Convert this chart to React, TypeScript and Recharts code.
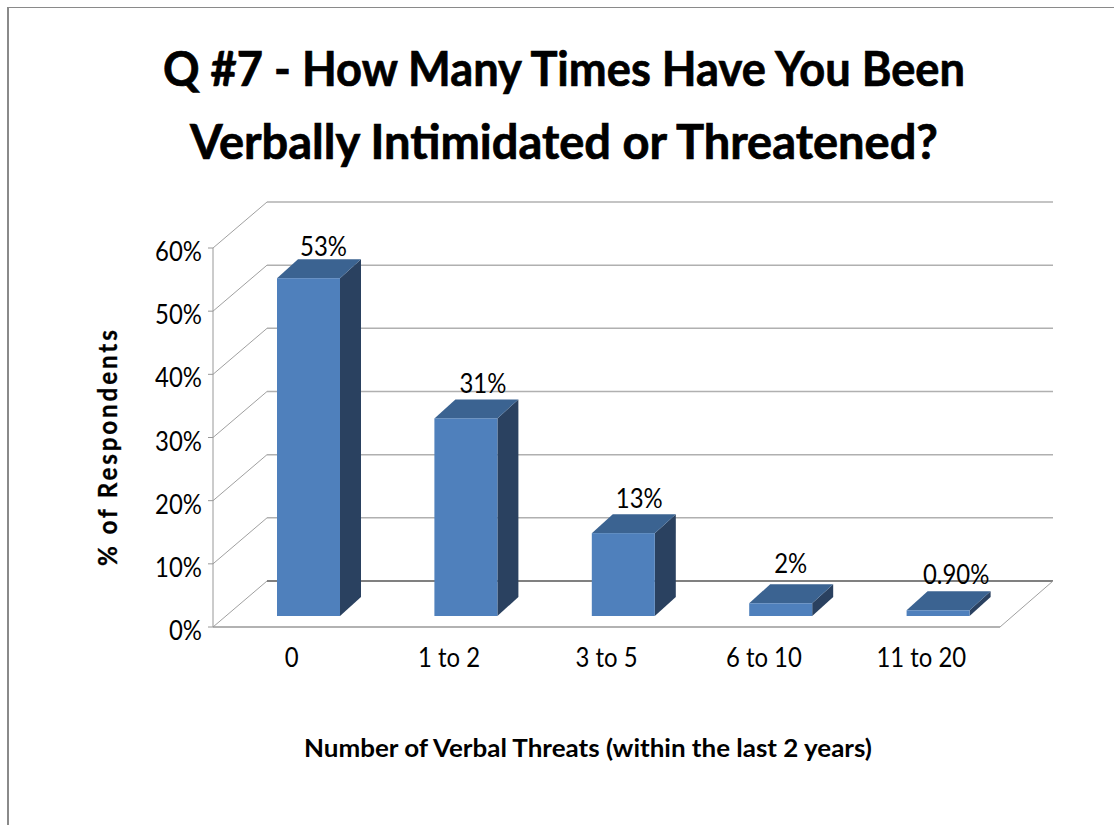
import { Bar, BarChart, CartesianGrid, LabelList, XAxis, YAxis } from "recharts";

const categories = ["0", "1 to 2", "3 to 5", "6 to 10", "11 to 20"];
const percentValues = [53, 31, 13, 2, 0.9];
const valueLabels = ["53%", "31%", "13%", "2%", "0.90%"];
const percentTicks = [0, 10, 20, 30, 40, 50, 60];

const chartData = categories.map((category, i) => ({
  category,
  percent: percentValues[i],
  label: valueLabels[i],
}));

const FONT = "Lato, sans-serif";
const TEXT_SQUEEZE = 0.92;
const WALL_DX = 54;
const WALL_DY = 46;
const BAR_SHIFT_X = 17;
const BAR_SHIFT_Y = 11;
const BAR_STRETCH = 1.009; // bars in the original run a touch taller than the wall grid
const DEPTH_X = 21;
const DEPTH_Y = 19;

// the labels were placed by hand in the original, so each gets its own nudge
const labelNudge = [
  { dx: 15, dy: -22 },
  { dx: 17, dy: -25 },
  { dx: 16, dy: -25 },
  { dx: 10, dy: -30 },
  { dx: 18, dy: -26 },
];

// oblique 3d box, the library gives us the flat bar and we push it onto the floor
function Bar3D({ x, y, width, height }: any) {
  const left = x + BAR_SHIFT_X;
  const right = left + width;
  const bottom = y + height - BAR_SHIFT_Y;
  const top = bottom - height * BAR_STRETCH;
  return (
    <g>
      <polygon
        points={`${right},${top} ${right + DEPTH_X},${top - DEPTH_Y} ${right + DEPTH_X},${bottom - DEPTH_Y} ${right},${bottom}`}
        fill="#2A4160"
      />
      <polygon
        points={`${left},${top} ${left + DEPTH_X},${top - DEPTH_Y} ${right + DEPTH_X},${top - DEPTH_Y} ${right},${top}`}
        fill="#3B6391"
      />
      <rect x={left} y={top} width={width} height={bottom - top} fill="#4F80BC" />
    </g>
  );
}

function GridLine({ x1, y1, x2, index }: any) {
  const isFloor = y1 > 600;
  const backY = y1 - WALL_DY;
  return (
    <g key={index} fill="none">
      <line x1={x1} y1={y1} x2={x1 + WALL_DX} y2={backY} stroke="#A0A0A0" />
      <line
        x1={x1 + WALL_DX}
        y1={backY}
        x2={x2 + WALL_DX - 1}
        y2={backY}
        stroke={isFloor ? "#808080" : "#B0B0B0"}
        strokeWidth={isFloor ? 2 : 1.5}
      />
      {isFloor && (
        <>
          <line x1={x1} y1={y1} x2={x2} y2={y1} stroke="#989898" strokeWidth={1.5} />
          <line x1={x2} y1={y1} x2={x2 + WALL_DX - 1} y2={backY} stroke="#A0A0A0" />
        </>
      )}
    </g>
  );
}

function SqueezedText({ x, y, anchor, children }: any) {
  return (
    <text
      transform={`translate(${x},${y}) scale(${TEXT_SQUEEZE},1)`}
      textAnchor={anchor}
      fontFamily={FONT}
      fontSize={26}
      fill="#000"
    >
      {children}
    </text>
  );
}

function ValueLabel({ x, y, width, height, value, index }: any) {
  const bottom = y + height - BAR_SHIFT_Y;
  const top = bottom - height * BAR_STRETCH;
  const nudge = labelNudge[index];
  return (
    <SqueezedText x={x + width / 2 + BAR_SHIFT_X + nudge.dx} y={top + nudge.dy} anchor="middle">
      {value}
    </SqueezedText>
  );
}

function CategoryTick({ x, y, payload }: any) {
  return (
    <SqueezedText x={x} y={y + 32} anchor="middle">
      {payload.value}
    </SqueezedText>
  );
}

function PercentTick({ x, y, payload }: any) {
  return (
    <SqueezedText x={x} y={y + 13} anchor="end">
      {`${payload.value}%`}
    </SqueezedText>
  );
}

export default function App() {
  return (
    <div
      style={{
        position: "absolute",
        left: 0,
        top: 0,
        width: 1114,
        height: 825,
        overflow: "hidden",
        background: "#fff",
      }}
    >
      <div
        style={{
          position: "absolute",
          left: 7,
          top: 7,
          width: 1200,
          height: 900,
          borderLeft: "2px solid #8a8a8a",
          borderTop: "1px solid #8a8a8a",
        }}
      />
      <div style={{ position: "absolute", left: 0, top: 0 }}>
        <BarChart
          width={1114}
          height={825}
          data={chartData}
          margin={{ top: 248, right: 114, bottom: 0, left: 0 }}
          barSize={63}
        >
          <CartesianGrid vertical={false} horizontal={(props: any) => <GridLine {...props} />} />
          <XAxis
            dataKey="category"
            height={198}
            axisLine={false}
            tickLine={false}
            tick={(props: any) => <CategoryTick {...props} />}
          />
          <YAxis
            width={213}
            domain={[0, 60]}
            ticks={percentTicks}
            axisLine={{ stroke: "#989898" }}
            tickLine={{ stroke: "#989898" }}
            tickSize={5}
            tickMargin={6}
            tick={(props: any) => <PercentTick {...props} />}
          />
          <Bar
            dataKey="percent"
            isAnimationActive={false}
            shape={(props: any) => <Bar3D {...props} />}
          >
            <LabelList dataKey="label" content={(props: any) => <ValueLabel {...props} />} />
          </Bar>
          <text
            x={564}
            y={86}
            textAnchor="middle"
            fontFamily={FONT}
            fontWeight={700}
            fontSize={48}
            stroke="#000"
            strokeWidth={0.7}
            textLength={802}
            lengthAdjust="spacingAndGlyphs"
          >
            Q #7 - How Many Times Have You Been
          </text>
          <text
            x={564}
            y={159}
            textAnchor="middle"
            fontFamily={FONT}
            fontWeight={700}
            fontSize={48}
            stroke="#000"
            strokeWidth={0.7}
            textLength={748}
            lengthAdjust="spacingAndGlyphs"
          >
            Verbally Intimidated or Threatened?
          </text>
          <text
            x={588}
            y={757}
            textAnchor="middle"
            fontFamily={FONT}
            fontWeight={700}
            fontSize={25}
            textLength={568}
            lengthAdjust="spacingAndGlyphs"
          >
            Number of Verbal Threats (within the last 2 years)
          </text>
          <text
            transform="translate(117,448) rotate(-90) scale(0.9,1)"
            textAnchor="middle"
            fontFamily={FONT}
            fontWeight={700}
            fontSize={27}
            stroke="#000"
            strokeWidth={0.3}
            textLength={262}
            lengthAdjust="spacing"
          >
            % of Respondents
          </text>
        </BarChart>
      </div>
    </div>
  );
}
